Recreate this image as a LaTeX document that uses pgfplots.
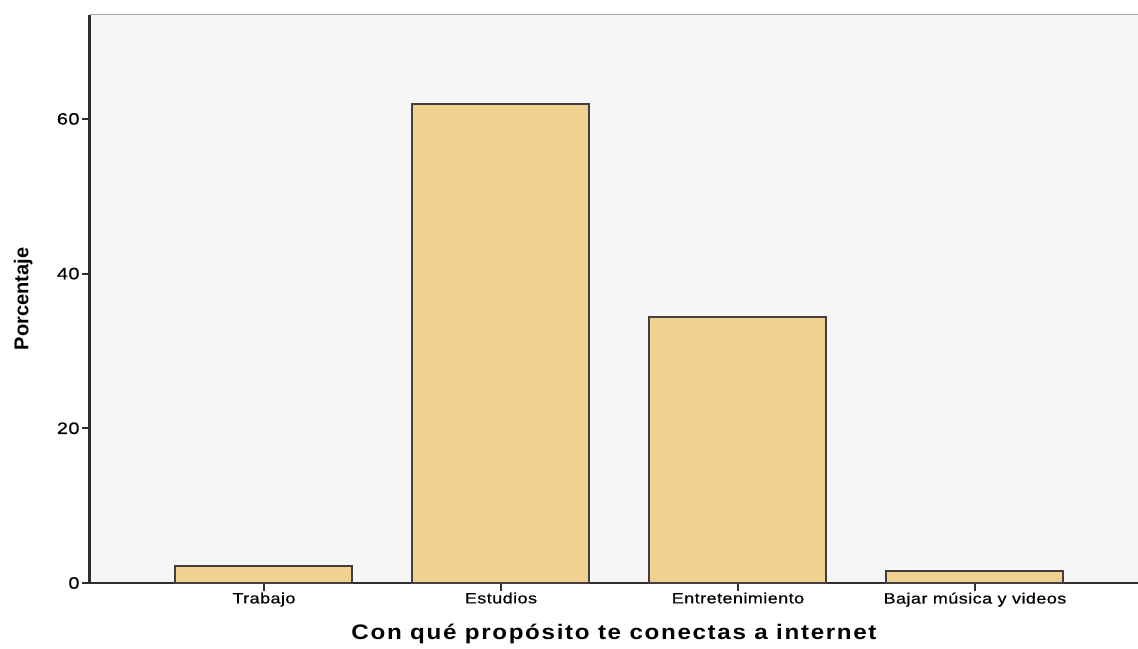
\documentclass[border=0pt]{standalone}
\usepackage{pgfplots}
\pgfplotsset{compat=1.18}
\usepackage{fontspec}
\setmainfont{Liberation Sans}
\newfontfamily\tickfont[FakeStretch=1.2, LetterSpace=3, FakeBold=0.6]{Liberation Sans}
\newfontfamily\titlefont[FakeStretch=1.15, LetterSpace=8]{Liberation Sans Bold}
\newfontfamily\ylabfont{Liberation Sans Bold}
\definecolor{barfill}{RGB}{240,210,144}
\definecolor{barline}{RGB}{70,60,66}
\definecolor{bgc}{RGB}{247,246,246}
\definecolor{axc}{RGB}{50,45,48}
\begin{document}
\begin{tikzpicture}
\begin{axis}[
  at={(0,0)}, anchor=south west,
  scale only axis,
  width=1048pt, height=568pt,
  xmin=-0.734, xmax=3.688,
  ymin=0, ymax=73.43,
  axis background/.style={fill=bgc},
  axis x line=bottom, axis y line=left,
  x axis line style={-, draw=axc, line width=2pt},
  y axis line style={-, draw=axc, line width=3pt},
  xtick={0,1,2,3},
  xticklabels={Trabajo,Estudios,Entretenimiento,Bajar música y videos},
  ytick={0,20,40,60},
  tick align=outside,
  major tick length=8pt,
  every tick/.style={draw=axc, line width=2pt},
  /pgf/number format/assume math mode=true,
  yticklabel style={font=\fontsize{16.5}{18}\tickfont, xshift=1pt},
  xticklabel style={font=\fontsize{15}{17}\tickfont, yshift=2pt},
  ylabel={Porcentaje},
  ylabel style={font=\fontsize{20}{22}\ylabfont, at={(rel axis cs:0,0.5)}, anchor=south, yshift=54pt},
  xlabel={Con qué propósito te conectas a internet},
  xlabel style={font=\fontsize{21}{24}\titlefont, at={(rel axis cs:0.5,0)}, anchor=north, yshift=-38pt},
  clip=false,
]
\addplot[ybar, bar width=177pt, fill=barfill, draw=barline, line width=2pt]
  coordinates {(0,2.2) (1,61.9) (2,34.4) (3,1.55)};
\draw[gray!70, line width=1pt] (rel axis cs:0,1) -- (rel axis cs:1,1);
\end{axis}
\pgfresetboundingbox
\path (-90pt,-65pt) rectangle (1048pt,583pt);
\end{tikzpicture}
\end{document}
